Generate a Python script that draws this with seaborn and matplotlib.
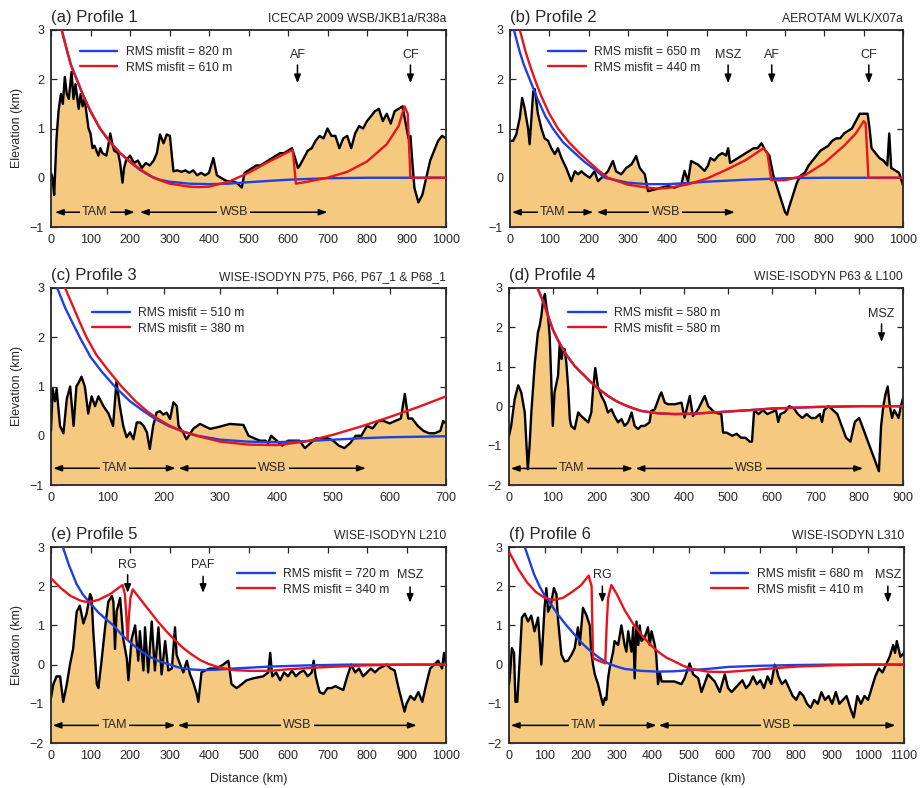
import numpy as np
import matplotlib
matplotlib.use("Agg")
import matplotlib.pyplot as plt
import seaborn as sns

sns.set_style("ticks")
plt.rcParams['font.family'] = ['Liberation Sans', 'DejaVu Sans']

FILL = '#F5C97F'
BLUE = '#1f3fe0'
RED = '#e8141c'

# ---- data (distance km, elevation km) ----
p1_topo = [(0,0.1),(4,0.0),(8,-0.35),(14,0.8),(19,1.35),(25,1.7),(30,1.5),(35,2.05),(40,1.7),(45,1.6),(52,2.15),(57,1.6),(62,1.9),(70,1.4),(75,1.7),(80,1.45),(85,1.6),(90,1.3),(95,1.0),(100,0.9),(105,0.6),(110,0.65),(120,0.45),(125,0.6),(130,0.5),(140,0.45),(145,0.65),(150,0.9),(155,0.7),(160,0.55),(170,0.5),(175,0.3),(181,-0.1),(185,0.2),(190,0.35),(200,0.45),(210,0.3),(220,0.35),(230,0.2),(240,0.3),(250,0.25),(260,0.35),(268,0.5),(276,0.88),(285,0.7),(293,0.88),(301,0.85),(310,0.13),(320,0.15),(330,0.12),(340,0.15),(350,0.1),(360,0.15),(370,0.05),(380,0.1),(390,0.05),(400,0.1),(411,0.4),(420,0.05),(430,0.0),(445,-0.07),(460,-0.07),(470,-0.1),(483,-0.2),(490,0.1),(500,0.15),(510,0.2),(520,0.25),(530,0.25),(540,0.3),(550,0.35),(560,0.4),(570,0.45),(580,0.5),(590,0.5),(600,0.55),(610,0.6),(618,0.4),(625,0.2),(630,0.25),(640,0.4),(650,0.55),(660,0.6),(670,0.75),(680,0.85),(690,0.8),(700,1.0),(710,0.85),(720,0.85),(730,0.6),(740,0.8),(750,0.85),(760,0.6),(770,0.9),(780,1.05),(790,1.0),(800,1.15),(810,1.25),(820,1.35),(830,1.4),(840,1.15),(850,1.3),(860,1.1),(870,1.35),(880,1.4),(890,1.45),(898,1.1),(905,0.8),(910,0.85),(915,0.3),(920,-0.2),(930,-0.5),(940,-0.35),(950,0.0),(960,0.35),(970,0.55),(980,0.75),(990,0.85),(1000,0.8)]
p1_blue = [(27,3.0),(40,2.6),(50,2.3),(65,2.0),(80,1.7),(100,1.35),(124,1.0),(150,0.72),(175,0.5),(200,0.32),(225,0.16),(250,0.04),(275,-0.04),(300,-0.08),(350,-0.12),(400,-0.13),(450,-0.12),(500,-0.09),(600,-0.04),(700,-0.01),(800,0.0),(1000,0.0)]
p1_red = [(27,3.0),(40,2.6),(50,2.3),(65,2.0),(80,1.7),(100,1.35),(124,1.0),(150,0.72),(175,0.5),(200,0.33),(225,0.18),(259,0.0),(300,-0.12),(350,-0.18),(377,-0.19),(400,-0.18),(450,-0.08),(500,0.1),(550,0.32),(600,0.52),(612,0.57),(620,-0.12),(650,-0.08),(700,0.0),(750,0.12),(800,0.33),(850,0.68),(880,1.05),(895,1.45),(903,1.3),(910,0.0),(1000,0.0)]

p2_topo = [(0,0.75),(8,0.75),(16,0.88),(25,1.22),(31,1.62),(37,1.42),(46,1.0),(50,0.68),(59,1.75),(63,1.8),(71,1.3),(80,1.0),(88,0.8),(97,0.75),(105,0.6),(114,0.48),(122,0.6),(131,0.4),(143,0.2),(156,-0.07),(165,0.13),(173,0.07),(182,0.13),(190,0.07),(203,0.0),(215,0.13),(224,-0.07),(237,0.03),(249,0.13),(262,0.34),(270,0.13),(283,0.07),(296,0.2),(309,0.27),(321,0.44),(330,0.2),(343,0.07),(351,-0.27),(368,-0.24),(385,-0.2),(402,-0.17),(419,-0.2),(436,-0.14),(444,0.14),(453,-0.07),(461,0.34),(470,0.3),(478,0.27),(495,0.14),(504,0.25),(510,0.4),(520,0.35),(530,0.45),(540,0.5),(550,0.45),(555,0.6),(560,0.3),(570,0.35),(580,0.4),(590,0.45),(600,0.5),(610,0.55),(620,0.6),(630,0.6),(640,0.7),(650,0.55),(660,0.45),(665,0.25),(670,0.05),(680,-0.2),(690,-0.45),(700,-0.7),(705,-0.75),(710,-0.6),(720,-0.35),(730,-0.1),(740,0.05),(750,0.1),(760,0.25),(770,0.35),(780,0.45),(790,0.55),(800,0.6),(810,0.65),(820,0.75),(830,0.8),(840,0.8),(850,0.9),(860,0.95),(870,1.0),(880,1.15),(890,1.3),(900,1.3),(910,1.3),(915,1.0),(920,0.6),(930,0.5),(940,0.4),(950,0.35),(960,0.25),(965,0.9),(970,0.2),(980,0.15),(990,0.1),(1000,-0.15)]
p2_blue = [(10,3.0),(25,2.55),(35,2.3),(50,2.0),(70,1.6),(90,1.25),(109,1.0),(135,0.72),(165,0.5),(190,0.32),(215,0.17),(241,0.0),(300,-0.1),(350,-0.13),(400,-0.13),(450,-0.11),(500,-0.08),(600,-0.04),(700,-0.01),(800,0.0),(1000,0.0)]
p2_red = [(25,3.0),(40,2.55),(50,2.3),(63,2.0),(80,1.65),(100,1.3),(122,1.0),(150,0.72),(177,0.5),(200,0.33),(225,0.15),(249,0.0),(300,-0.14),(350,-0.2),(377,-0.22),(400,-0.21),(450,-0.14),(500,-0.02),(550,0.16),(600,0.36),(645,0.6),(655,0.5),(665,-0.05),(700,-0.05),(750,0.05),(800,0.3),(850,0.65),(880,0.9),(900,1.15),(905,1.1),(912,0.0),(1000,0.0)]

p3_topo = [(0,0.1),(3,0.95),(7,0.7),(10,0.95),(16,0.2),(22,0.05),(28,0.75),(34,1.0),(40,0.2),(45,1.0),(50,1.1),(54,1.2),(60,1.0),(66,0.45),(72,0.8),(78,0.6),(84,0.8),(93,0.6),(102,0.45),(110,0.2),(116,1.1),(122,0.6),(128,0.2),(134,-0.03),(140,0.07),(146,-0.07),(152,0.27),(158,0.27),(164,0.2),(170,0.07),(175,-0.27),(181,0.2),(187,0.47),(193,0.5),(199,0.43),(205,0.47),(211,0.34),(217,0.68),(223,0.6),(226,0.2),(234,0.07),(240,-0.07),(246,0.03),(252,0.14),(264,0.24),(282,0.14),(294,0.17),(317,0.24),(341,0.22),(350,0.0),(360,-0.05),(370,-0.1),(380,-0.1),(385,-0.15),(390,0.0),(400,-0.1),(410,-0.2),(420,-0.1),(430,-0.1),(440,-0.1),(450,-0.25),(460,-0.15),(470,-0.05),(480,-0.05),(490,-0.05),(500,-0.1),(510,-0.2),(520,-0.25),(530,-0.15),(540,0.0),(550,0.0),(560,0.2),(570,0.15),(580,0.3),(590,0.3),(600,0.25),(610,0.3),(620,0.35),(627,0.85),(633,0.35),(640,0.35),(650,0.2),(660,0.1),(670,0.05),(680,0.05),(690,0.1),(695,0.3),(700,0.25)]
p3_blue = [(11,3.0),(25,2.6),(40,2.25),(51,2.0),(70,1.6),(90,1.3),(113,1.0),(140,0.7),(164,0.5),(185,0.34),(208,0.2),(235,0.08),(260,0.0),(300,-0.08),(350,-0.12),(400,-0.13),(450,-0.11),(500,-0.08),(550,-0.05),(600,-0.03),(650,-0.02),(700,-0.01)]
p3_red = [(25,3.0),(40,2.6),(50,2.33),(63,2.0),(80,1.65),(100,1.35),(125,1.0),(150,0.7),(170,0.5),(190,0.34),(211,0.2),(235,0.08),(258,0.0),(300,-0.12),(350,-0.18),(400,-0.19),(450,-0.12),(500,0.02),(550,0.19),(600,0.38),(650,0.58),(700,0.8)]

p4_topo = [(0,-0.75),(5,-0.5),(13,0.18),(21,0.53),(28,0.35),(36,-0.16),(40,-1.0),(43,-1.6),(47,-1.0),(51,-0.16),(59,1.1),(66,1.87),(70,2.04),(74,2.3),(78,2.7),(82,2.85),(85,2.55),(89,2.3),(93,1.78),(97,0.5),(100,-0.5),(104,0.35),(112,0.77),(116,1.6),(120,1.2),(123,1.43),(127,1.45),(131,1.1),(135,0.5),(139,-0.33),(142,-0.5),(150,-0.58),(158,-0.16),(165,-0.25),(173,-0.33),(181,-0.41),(188,-0.16),(192,0.43),(197,0.97),(203,0.5),(211,0.26),(219,0.09),(226,-0.16),(234,-0.08),(241,-0.25),(249,-0.41),(257,-0.33),(264,-0.5),(272,-0.41),(280,-0.16),(287,-0.5),(295,-0.58),(302,-0.5),(310,-0.5),(321,-0.41),(325,-0.12),(333,-0.08),(344,0.26),(348,0.35),(356,0.09),(363,0.05),(379,0.05),(394,0.09),(401,-0.29),(413,0.26),(420,-0.25),(432,-0.08),(447,0.26),(455,0.0),(470,-0.16),(485,-0.2),(489,-0.67),(497,-0.67),(510,-0.75),(520,-0.7),(530,-0.8),(540,-0.8),(550,-0.9),(555,-0.9),(560,-0.1),(570,-0.2),(580,-0.1),(590,-0.2),(600,-0.15),(610,-0.1),(615,-0.4),(620,-0.2),(630,-0.15),(640,0.0),(650,-0.05),(660,-0.2),(670,-0.3),(680,-0.2),(690,-0.3),(700,-0.3),(710,-0.2),(715,-0.4),(720,-0.1),(730,0.0),(740,-0.1),(750,-0.2),(760,-0.5),(770,-0.8),(780,-0.9),(790,-0.4),(800,-0.3),(810,-0.6),(820,-0.9),(830,-1.2),(840,-1.5),(845,-1.65),(850,-0.5),(855,0.0),(860,0.3),(865,0.5),(870,0.0),(875,-0.3),(880,-0.1),(890,-0.3),(895,0.0),(900,0.2)]
p4_blue = [(65,3.0),(80,2.6),(89,2.3),(100,1.95),(112,1.67),(130,1.32),(150,1.02),(170,0.8),(188,0.6),(207,0.42),(226,0.26),(245,0.13),(264,0.03),(283,-0.05),(302,-0.12),(340,-0.18),(379,-0.2),(424,-0.19),(493,-0.14),(550,-0.1),(600,-0.06),(700,-0.02),(800,0.0),(900,0.0)]
p4_red = [(65,3.0),(80,2.6),(89,2.3),(100,1.95),(112,1.67),(130,1.32),(150,1.02),(170,0.8),(188,0.6),(207,0.42),(226,0.26),(245,0.13),(264,0.03),(283,-0.05),(302,-0.12),(340,-0.18),(379,-0.2),(424,-0.19),(493,-0.14),(550,-0.1),(600,-0.06),(700,-0.02),(800,0.0),(900,0.0)]

p5_topo = [(0,-0.85),(6,-0.5),(14,-0.3),(23,-0.3),(31,-0.95),(40,-0.5),(48,0.0),(56,0.4),(65,1.35),(73,1.5),(82,1.05),(90,1.3),(99,1.8),(103,1.7),(107,0.85),(116,-0.5),(120,-0.6),(128,0.1),(137,0.95),(145,1.6),(154,1.75),(158,1.6),(162,0.4),(166,1.35),(175,1.7),(179,1.2),(183,0.65),(192,0.15),(196,-0.4),(204,0.65),(213,1.0),(221,0.1),(225,0.85),(234,-0.15),(238,0.95),(246,-0.2),(255,1.1),(263,-0.15),(272,0.95),(280,-0.25),(289,0.6),(297,-0.15),(306,-0.1),(314,0.95),(318,0.25),(327,0.0),(335,-0.2),(344,0.1),(352,-0.25),(360,-0.45),(369,-0.75),(373,-0.95),(381,-0.2),(390,-0.15),(402,-0.1),(419,-0.1),(436,0.0),(449,0.1),(457,-0.5),(470,-0.6),(483,-0.5),(495,-0.4),(512,-0.35),(537,-0.3),(550,-0.2),(555,0.3),(560,-0.3),(570,-0.2),(580,-0.4),(590,-0.2),(600,-0.3),(610,-0.15),(620,-0.3),(630,-0.2),(640,-0.15),(650,-0.3),(660,-0.2),(665,0.1),(670,-0.3),(680,-0.7),(690,-0.75),(700,-0.6),(710,-0.6),(720,-0.55),(730,-0.6),(740,-0.65),(750,-0.3),(760,0.0),(770,-0.2),(780,-0.1),(790,-0.3),(800,-0.2),(810,-0.1),(820,-0.2),(830,-0.1),(840,-0.05),(850,0.0),(860,-0.1),(870,-0.15),(880,-0.6),(890,-1.0),(895,-1.2),(900,-1.0),(910,-0.8),(920,-0.9),(930,-0.7),(940,-0.95),(950,-0.5),(960,-0.1),(970,0.0),(980,0.1),(990,-0.1),(995,0.3),(1000,0.0)]
p5_blue = [(30,3.0),(45,2.55),(65,2.05),(80,1.8),(97,1.59),(120,1.33),(140,1.15),(158,1.0),(180,0.75),(208,0.5),(230,0.33),(250,0.2),(275,0.08),(301,0.0),(325,-0.08),(350,-0.12),(385,-0.14),(420,-0.13),(460,-0.1),(500,-0.08),(554,-0.05),(650,-0.02),(750,0.0),(1000,0.0)]
p5_red = [(0,2.2),(25,1.95),(50,1.75),(75,1.63),(95,1.59),(120,1.65),(150,1.8),(170,1.95),(181,2.03),(187,1.8),(191,1.2),(194,0.63),(197,1.2),(201,1.7),(207,1.92),(220,1.75),(251,1.35),(272,1.08),(293,0.84),(314,0.62),(335,0.42),(356,0.26),(377,0.12),(398,0.02),(419,-0.05),(440,-0.1),(462,-0.14),(504,-0.16),(554,-0.16),(600,-0.12),(700,-0.06),(800,-0.02),(900,0.0),(1000,0.0)]

p6_topo = [(0,-0.5),(2,-0.35),(8,0.42),(14,0.3),(18,-0.95),(23,-0.95),(30,0.15),(36,1.2),(44,1.3),(53,1.1),(62,1.25),(71,0.85),(81,1.2),(90,0.0),(99,1.45),(104,1.95),(109,1.35),(116,1.5),(125,1.95),(132,1.8),(137,1.1),(146,0.25),(155,0.08),(164,0.1),(174,0.25),(183,0.42),(192,0.95),(197,0.5),(206,1.45),(216,1.25),(225,1.0),(229,0.33),(234,0.0),(239,-0.25),(248,-0.5),(257,-0.85),(262,-1.03),(267,-0.85),(271,-0.9),(276,-0.35),(280,-0.1),(290,0.33),(294,0.6),(304,0.5),(313,1.0),(322,0.5),(327,0.33),(332,0.85),(341,0.33),(346,0.95),(350,-0.35),(355,1.1),(360,0.5),(364,1.0),(369,0.6),(378,0.7),(387,0.95),(392,0.5),(397,0.85),(406,0.5),(410,0.25),(415,-0.5),(420,-0.2),(425,-0.43),(443,-0.43),(461,-0.43),(480,-0.5),(489,-0.35),(503,0.03),(513,-0.25),(527,-0.35),(536,-0.7),(554,-0.25),(573,-0.43),(587,-0.7),(601,-0.25),(610,-0.6),(620,-0.7),(630,-0.6),(640,-0.5),(650,-0.4),(660,-0.6),(670,-0.5),(680,-0.3),(690,-0.5),(700,-0.4),(710,-0.6),(720,-0.3),(730,-0.5),(740,0.0),(745,-0.1),(750,-0.3),(760,-0.5),(770,-0.4),(780,-0.6),(790,-0.8),(800,-0.9),(810,-0.7),(820,-0.8),(830,-1.0),(840,-1.1),(850,-0.9),(860,-1.0),(870,-0.7),(880,-0.9),(890,-0.8),(900,-1.0),(910,-0.7),(920,-1.0),(930,-0.9),(940,-0.8),(950,-1.1),(960,-1.35),(970,-0.8),(980,-1.0),(990,-0.8),(1000,-0.9),(1010,-0.6),(1020,-0.3),(1030,-0.1),(1040,-0.2),(1050,0.0),(1060,0.2),(1070,0.5),(1075,0.3),(1080,0.6),(1090,0.2),(1100,0.3)]
p6_blue = [(44,3.0),(55,2.7),(70,2.3),(85,2.0),(100,1.75),(109,1.65),(123,1.45),(137,1.27),(160,1.0),(183,0.76),(206,0.52),(229,0.33),(252,0.17),(276,0.03),(300,-0.05),(322,-0.11),(369,-0.16),(415,-0.18),(461,-0.17),(508,-0.14),(554,-0.11),(610,-0.06),(700,-0.03),(800,-0.01),(900,0.0),(1100,0.0)]
p6_red = [(0,2.88),(25,2.45),(50,2.1),(75,1.85),(100,1.7),(123,1.65),(150,1.7),(175,1.85),(200,2.02),(222,2.27),(230,2.0),(234,0.16),(250,0.1),(268,0.03),(272,1.0),(276,1.7),(285,2.03),(300,1.8),(322,1.39),(345,1.05),(369,0.76),(392,0.52),(415,0.33),(438,0.18),(461,0.08),(485,-0.03),(508,-0.11),(554,-0.18),(601,-0.19),(650,-0.16),(700,-0.12),(800,-0.05),(900,-0.02),(1000,0.0),(1100,0.0)]

titles = ['(a) Profile 1', '(b) Profile 2', '(c) Profile 3', '(d) Profile 4', '(e) Profile 5', '(f) Profile 6']
sources = ['ICECAP 2009 WSB/JKB1a/R38a', 'AEROTAM WLK/X07a', 'WISE-ISODYN P75, P66, P67_1 & P68_1',
           'WISE-ISODYN P63 & L100', 'WISE-ISODYN L210', 'WISE-ISODYN L310']
misfit_blue = [820, 650, 510, 580, 720, 680]
misfit_red = [610, 440, 380, 580, 340, 410]
xmax = [1000, 1000, 700, 900, 1000, 1100]
ymin = [-1, -1, -1, -2, -2, -2]
# (label, x, label y, arrow start, arrow tip)
markers = [
    [('AF', 624, 2.49, 2.29, 1.92), ('CF', 910, 2.49, 2.29, 1.92)],
    [('MSZ', 555, 2.49, 2.29, 1.92), ('AF', 666, 2.49, 2.29, 1.92), ('CF', 913, 2.49, 2.29, 1.92)],
    [],
    [('MSZ', 851, 2.34, 2.09, 1.63)],
    [('RG', 194, 2.54, 2.29, 1.83), ('PAF', 385, 2.54, 2.25, 1.83), ('MSZ', 909, 2.29, 1.98, 1.58)],
    [('RG', 260, 2.29, 2.0, 1.58), ('MSZ', 1055, 2.29, 2.0, 1.58)],
]
# (name, start, end, y)
regions = [
    [('TAM', 10, 212, -0.7), ('WSB', 225, 700, -0.7)],
    [('TAM', 5, 212, -0.7), ('WSB', 221, 572, -0.7)],
    [('TAM', 4, 221, -0.66), ('WSB', 226, 558, -0.66)],
    [('TAM', 4, 283, -1.58), ('WSB', 289, 809, -1.58)],
    [('TAM', 4, 315, -1.55), ('WSB', 321, 926, -1.55)],
    [('TAM', 5, 411, -1.55), ('WSB', 417, 1076, -1.55)],
]
legend_anchor = [(0.073, 0.919), (0.097, 0.919), (0.104, 0.904), (0.15, 0.904), (0.471, 0.893), (0.511, 0.893)]
topos = [p1_topo, p2_topo, p3_topo, p4_topo, p5_topo, p6_topo]
blues = [p1_blue, p2_blue, p3_blue, p4_blue, p5_blue, p6_blue]
reds = [p1_red, p2_red, p3_red, p4_red, p5_red, p6_red]

W, H = 923, 788
boxes = [(51, 30, 446, 227), (510, 30, 903, 227),
         (51, 288, 446, 485), (509, 288, 903, 485),
         (51, 547, 446, 743), (509, 547, 904, 743)]

fig = plt.figure(figsize=(W / 100, H / 100), dpi=100)

for i in range(6):
    l, t, r, b = boxes[i]
    ax = fig.add_axes([l / W, 1 - b / H, (r - l) / W, (b - t) / H])
    topo = np.array(topos[i])
    blue = np.array(blues[i])
    red = np.array(reds[i])

    ax.fill_between(topo[:, 0], topo[:, 1], ymin[i] - 1, color=FILL, lw=0, zorder=1)
    sns.lineplot(x=topo[:, 0], y=topo[:, 1], ax=ax, color='black', lw=1.7, sort=False,
                 estimator=None, zorder=2)
    sns.lineplot(x=blue[:, 0], y=blue[:, 1], ax=ax, color=BLUE, lw=1.7, sort=False,
                 estimator=None, zorder=3, label=f'RMS misfit = {misfit_blue[i]} m')
    sns.lineplot(x=red[:, 0], y=red[:, 1], ax=ax, color=RED, lw=1.7, sort=False,
                 estimator=None, zorder=4, label=f'RMS misfit = {misfit_red[i]} m')

    ax.set_xlim(0, xmax[i])
    ax.set_ylim(ymin[i], 3)
    ax.set_xticks(np.arange(0, xmax[i] + 1, 100))
    ax.set_yticks(np.arange(ymin[i], 4, 1))
    ax.set_yticklabels([f'{v}'.replace('-', '\u2212') for v in range(ymin[i], 4)])
    ax.tick_params(direction='in', top=True, right=True, length=4.5, width=0.9,
                   labelsize=9, pad=5)
    for s in ax.spines.values():
        s.set_linewidth(1.3)

    ax.legend(loc='upper left', bbox_to_anchor=legend_anchor[i], frameon=False,
              fontsize=8.7, handlelength=3.1, handletextpad=0.7, labelspacing=0.3,
              borderpad=0, borderaxespad=0)

    ax.set_title(titles[i], loc='left', fontsize=12, pad=6)
    ax.set_title(sources[i], loc='right', fontsize=8.7, pad=6)

    for name, x0, x1, y in regions[i]:
        ax.annotate('', xy=(x0, y), xytext=(x1, y), zorder=5,
                    arrowprops=dict(arrowstyle='<|-|>,head_length=0.5,head_width=0.18',
                                    color='black', lw=1.1, shrinkA=0, shrinkB=0))
        ax.text((x0 + x1) / 2, y, name, ha='center', va='center', fontsize=9, zorder=6,
                bbox=dict(facecolor=FILL, edgecolor='none', pad=1.5))

    for name, x, ylab, y0, y1 in markers[i]:
        ax.text(x, ylab, name, ha='center', va='center', fontsize=9, zorder=6)
        ax.annotate('', xy=(x, y1), xytext=(x, y0), zorder=6,
                    arrowprops=dict(arrowstyle='-|>,head_length=0.5,head_width=0.2',
                                    color='black', lw=1.1, shrinkA=0, shrinkB=0))

    if i % 2 == 0:
        ax.set_ylabel('Elevation (km)', fontsize=9, labelpad=5)
    else:
        ax.set_ylabel('')
    if i >= 4:
        ax.set_xlabel('Distance (km)', fontsize=9, labelpad=8)
    else:
        ax.set_xlabel('')

fig.savefig('out.png', dpi=100)
